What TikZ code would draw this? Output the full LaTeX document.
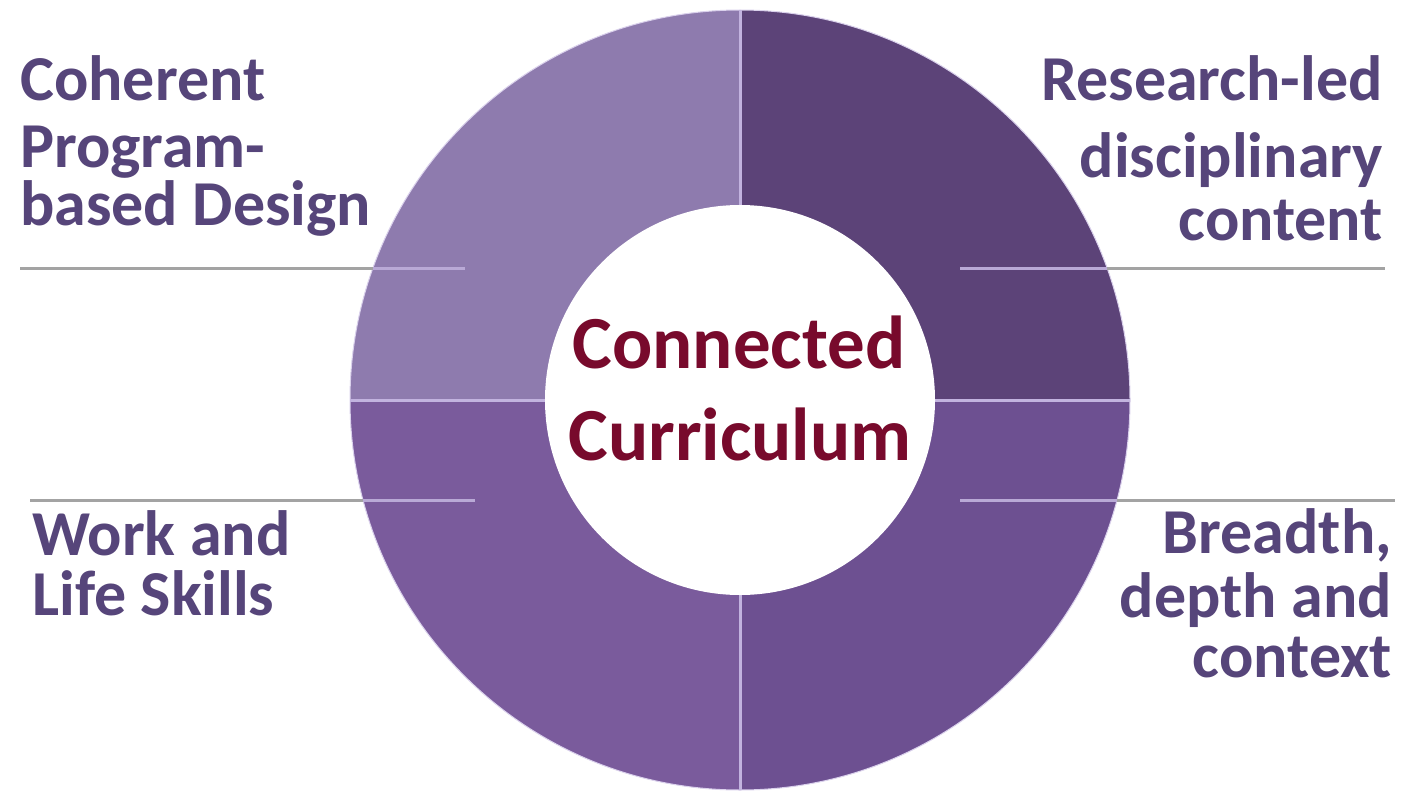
\documentclass[tikz,border=0pt]{standalone}
\usepackage{fontspec}
\setmainfont{Carlito}
\definecolor{qtl}{HTML}{8E7BAE}
\definecolor{qtr}{HTML}{5C4378}
\definecolor{qbl}{HTML}{7A5B9C}
\definecolor{qbr}{HTML}{6D5091}
\definecolor{sep}{HTML}{C2B3DF}
\definecolor{rule}{HTML}{A3A3A3}
\definecolor{rulein}{HTML}{B9A9D6}
\definecolor{labtxt}{HTML}{56457A}
\definecolor{ctrtxt}{HTML}{780A2C}
\tikzset{
  lab/.style={inner sep=0pt, text=labtxt, font=\fontsize{64}{64}\selectfont\bfseries},
  ctr/.style={inner sep=0pt, text=ctrtxt, font=\fontsize{75}{75}\selectfont\bfseries},
  grayrule/.style={draw=rule, line width=3pt},
  inrule/.style={draw=rulein, line width=3pt},
  seprule/.style={draw=sep, line width=3pt},
}
\begin{document}
\begin{tikzpicture}[x=1pt,y=-1pt]
\useasboundingbox (0,0) rectangle (1403,792);
\fill[white] (0,0) rectangle (1403,792);
\coordinate (O) at (740,400);
% quadrants
\fill[qtl] (O) -- ++(180:390) arc[start angle=180,end angle=270,radius=390] -- cycle;
\fill[qtr] (O) -- ++(270:390) arc[start angle=270,end angle=360,radius=390] -- cycle;
\fill[qbr] (O) -- ++(0:390) arc[start angle=0,end angle=90,radius=390] -- cycle;
\fill[qbl] (O) -- ++(90:390) arc[start angle=90,end angle=180,radius=390] -- cycle;
\draw[draw=sep!60!white, line width=1pt] (O) circle[radius=390];
% separators
\coordinate (st) at (740,10);
\coordinate (sb) at (740,790);
\coordinate (sl) at (350,400);
\coordinate (sr) at (1130,400);
\draw[seprule] (st) -- (sb);
\draw[seprule] (sl) -- (sr);
% inner circle
\fill[white] (O) circle[radius=195];
% rules
\coordinate (a1) at (20,268);  \coordinate (a2) at (373,268);  \coordinate (a3) at (465,268);
\coordinate (b1) at (960,268); \coordinate (b2) at (1107,268); \coordinate (b3) at (1385,268);
\coordinate (c1) at (30,500);  \coordinate (c2) at (363,500);  \coordinate (c3) at (475,500);
\coordinate (d1) at (960,500); \coordinate (d2) at (1117,500); \coordinate (d3) at (1395,500);
\draw[grayrule] (a1) -- (a2); \draw[inrule] (a2) -- (a3);
\draw[inrule] (b1) -- (b2);   \draw[grayrule] (b2) -- (b3);
\draw[grayrule] (c1) -- (c2); \draw[inrule] (c2) -- (c3);
\draw[inrule] (d1) -- (d2);   \draw[grayrule] (d2) -- (d3);
% labels
\node[lab, anchor=base west] (l1) at (20,100) {Coherent};
\node[lab, anchor=base west] (l2) at (20,167) {Program-};
\node[lab, anchor=base west] (l3) at (20,225) {based Design};
\node[lab, anchor=base east] (r1) at (1383,100) {Research-led};
\node[lab, anchor=base east] (r2) at (1383,177) {disciplinary};
\node[lab, anchor=base east] (r3) at (1383,240) {content};
\node[lab, anchor=base west] (w1) at (32,555) {Work and};
\node[lab, anchor=base west] (w2) at (32,615) {Life Skills};
\node[lab, anchor=base east] (e1) at (1392,553) {Breadth,};
\node[lab, anchor=base east] (e2) at (1392,617) {depth and};
\node[lab, anchor=base east] (e3) at (1392,677) {context};
\node[ctr, anchor=base] (cc1) at (739,368) {Connected};
\node[ctr, anchor=base] (cc2) at (740,460) {Curriculum};
\end{tikzpicture}
\end{document}
